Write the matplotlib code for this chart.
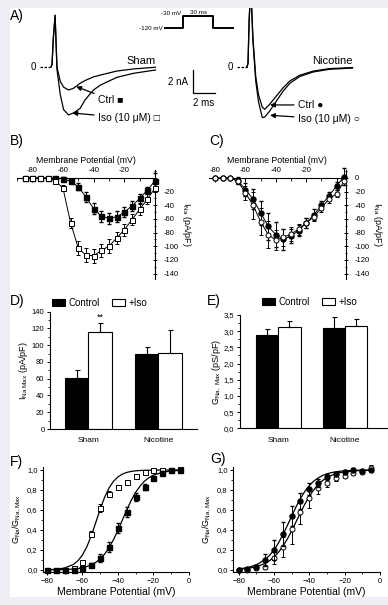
import matplotlib
matplotlib.use('Agg')
import matplotlib.pyplot as plt
from matplotlib.patches import Rectangle, Patch
from matplotlib.ticker import MultipleLocator, FuncFormatter

plt.rcParams['font.family'] = ['Liberation Sans', 'DejaVu Sans']
plt.rcParams['mathtext.fontset'] = 'custom'
plt.rcParams['mathtext.rm'] = 'Liberation Sans'
plt.rcParams['axes.linewidth'] = 0.8

# ---- A) current traces (ms, nA) ----
sham_t = [-0.1, 0.0, 0.12, 0.28, 0.45, 0.75, 1.05, 1.5, 1.95, 2.55, 3.0, 3.45, 3.8, 4.4, 5.9, 7.4, 9.4]
sham_ctrl = [0.0, 0.2, 2.5, 4.5, 0.0, -1.25, -1.75, -2.0, -1.85, -1.42, -1.18, -0.99, -0.85, -0.7, -0.35, -0.17, -0.02]
sham_iso = [0.0, 0.2, 2.5, 4.5, -0.2, -2.4, -3.7, -4.17, -4.0, -3.6, -2.87, -2.35, -1.98, -1.57, -0.9, -0.55, -0.26]

nic_t = [-0.1, 0.0, 0.1, 0.25, 0.45, 0.7, 0.95, 1.3, 1.52, 1.97, 2.58, 3.2, 3.8, 4.7, 5.94, 7.4, 9.5]
nic_ctrl = [0.0, 0.3, 4.0, 7.0, 2.5, -0.8, -2.4, -3.5, -3.68, -3.24, -2.52, -1.8, -1.22, -0.72, -0.35, -0.14, -0.05]
nic_iso = [0.0, 0.3, 4.0, 7.0, 2.2, -1.2, -3.0, -4.4, -4.35, -3.83, -2.96, -2.09, -1.42, -0.83, -0.43, -0.2, -0.09]

# voltage protocol
prot_t = [0, 18, 18, 48, 48, 68]
prot_v = [-120, -120, -30, -30, -120, -120]

# ---- B/C) I-V curves ----
sham_iv_v = [-85, -80, -75, -70, -65, -60, -55, -50, -45, -40, -35, -30, -25, -20, -15, -10, -5, 0]
sham_iv_ctrl = [0, 0, 0, 0, 0, -1, -5, -13, -28, -45, -56, -59, -57, -50, -41, -30, -18, -4]
sham_iv_ctrl_err = [1, 1, 1, 1, 1, 2, 3, 5, 7, 8, 8, 8, 8, 7, 7, 6, 5, 12]
sham_iv_iso = [0, 0, 0, 0, -4, -15, -66, -103, -113, -114, -106, -100, -88, -76, -61, -46, -31, -15]
sham_iv_iso_err = [1, 1, 1, 1, 2, 4, 8, 10, 10, 10, 10, 10, 9, 9, 8, 8, 7, 6]

nic_iv_v = [-80, -75, -70, -65, -60, -55, -50, -45, -40, -35, -30, -25, -20, -15, -10, -5, 0, 5]
nic_iv_ctrl = [0, 0, 0, -4, -17, -31, -51, -71, -83, -90, -85, -77, -66, -54, -40, -26, -12, 2]
nic_iv_ctrl_err = [1, 1, 1, 5, 10, 15, 18, 20, 18, 15, 10, 8, 8, 8, 7, 6, 6, 12]
nic_iv_iso = [0, 0, 0, -5, -22, -40, -64, -83, -91, -87, -82, -75, -66, -57, -44, -31, -23, -5]
nic_iv_iso_err = [1, 1, 1, 4, 10, 20, 20, 20, 15, 12, 10, 8, 7, 6, 6, 6, 5, 5]

# ---- D/E) bars ----
groups = ['Sham', 'Nicotine']
ina_ctrl = [61, 90]
ina_ctrl_err = [9, 8]
ina_iso = [116, 91]
ina_iso_err = [11, 27]
gna_ctrl = [2.87, 3.11]
gna_ctrl_err = [0.2, 0.32]
gna_iso = [3.13, 3.16]
gna_iso_err = [0.18, 0.22]

# ---- F/G) activation ----
act_v = [-80, -75, -70, -65, -60, -55, -50, -45, -40, -35, -30, -25, -20, -15, -10, -5]
sham_act_ctrl = [0, 0, 0, 0.005, 0.017, 0.05, 0.117, 0.233, 0.417, 0.583, 0.727, 0.833, 0.917, 0.967, 1.0, 1.0]
sham_act_ctrl_err = [0.01, 0.01, 0.01, 0.01, 0.01, 0.02, 0.04, 0.05, 0.05, 0.05, 0.04, 0.03, 0.02, 0.02, 0.01, 0.01]
sham_act_iso = [0, 0, 0, 0.02, 0.083, 0.36, 0.617, 0.757, 0.827, 0.883, 0.943, 0.983, 1.0, 1.0, 1.0, 1.01]
sham_act_iso_err = [0.01, 0.01, 0.01, 0.01, 0.01, 0.03, 0.04, 0.03, 0.02, 0.02, 0.02, 0.02, 0.02, 0.02, 0.01, 0.01]
nic_act_ctrl = [0, 0.007, 0.03, 0.1, 0.2, 0.36, 0.545, 0.69, 0.81, 0.875, 0.926, 0.96, 0.977, 1.0, 0.99, 1.0]
nic_act_ctrl_err = [0.01, 0.01, 0.02, 0.06, 0.1, 0.12, 0.1, 0.08, 0.06, 0.04, 0.03, 0.02, 0.02, 0.02, 0.01, 0.01]
nic_act_iso = [0, 0, 0.017, 0.033, 0.117, 0.233, 0.41, 0.583, 0.717, 0.817, 0.867, 0.917, 0.943, 0.967, 0.977, 1.02]
nic_act_iso_err = [0.01, 0.01, 0.01, 0.02, 0.06, 0.1, 0.15, 0.12, 0.1, 0.06, 0.04, 0.03, 0.02, 0.02, 0.02, 0.03]

# Boltzmann fits
fit_v = [-80, -75, -70, -65, -62.5, -60, -57.5, -55, -52.5, -50, -47.5, -45, -42.5, -40, -37.5,
         -35, -32.5, -30, -27.5, -25, -22.5, -20, -15, -10, -5]
sham_fit_ctrl = [0.001, 0.002, 0.004, 0.01, 0.015, 0.023, 0.035, 0.051, 0.076, 0.111, 0.159, 0.223, 0.303,
                 0.397, 0.5, 0.603, 0.697, 0.777, 0.841, 0.889, 0.924, 0.949, 0.977, 0.99, 0.996]
sham_fit_iso = [0.002, 0.007, 0.02, 0.056, 0.093, 0.149, 0.232, 0.343, 0.473, 0.607, 0.727, 0.821, 0.887,
                0.931, 0.959, 0.976, 0.986, 0.992, 0.995, 0.997, 0.998, 0.999, 1.0, 1.0, 1.0]
nic_fit_ctrl = [0.011, 0.024, 0.051, 0.104, 0.146, 0.2, 0.269, 0.351, 0.442, 0.538, 0.631, 0.716, 0.787,
                0.844, 0.889, 0.921, 0.945, 0.962, 0.974, 0.982, 0.988, 0.992, 0.996, 0.998, 0.999]
nic_fit_iso = [0.008, 0.016, 0.033, 0.066, 0.093, 0.129, 0.176, 0.236, 0.308, 0.391, 0.482, 0.573, 0.66,
               0.737, 0.802, 0.854, 0.894, 0.924, 0.946, 0.962, 0.974, 0.981, 0.991, 0.996, 0.998]

W, H = 388, 605
fig = plt.figure(figsize=(W / 100, H / 100), dpi=100)
fig.patch.set_facecolor('#eceef4')
fig.add_artist(Rectangle((10 / W, 1 - 597 / H), 378 / W, 589 / H, transform=fig.transFigure,
                         facecolor='white', edgecolor='none', zorder=-10))


def px_axes(x0, y0, x1, y1):
    return fig.add_axes([x0 / W, 1 - y1 / H, (x1 - x0) / W, (y1 - y0) / H])


def ftext(x, y, s, **kw):
    fig.text(x / W, 1 - y / H, s, **kw)


# panel letters
for lab, x, y in [('A)', 10, 9), ('B)', 10, 134), ('C)', 209, 134), ('D)', 10, 294),
                  ('E)', 207, 294), ('F)', 10, 455), ('G)', 210, 452)]:
    ftext(x, y, lab, fontsize=10, va='top', ha='left')

# ---------------- A) traces ----------------
tr = dict(color='k', lw=0.9)
arr = dict(arrowstyle='-|>', color='k', lw=0.9, mutation_scale=7, shrinkA=1, shrinkB=0)

axA1 = px_axes(15, 8, 222, 132)
axA1.plot(sham_t, sham_ctrl, **tr)
axA1.plot(sham_t, sham_iso, **tr)
axA1.set_xlim(-3.364, 15.45)
axA1.set_ylim(-5.652, 5.13)
axA1.axis('off')
axA1.plot([-1.1, -0.2], [0, 0], color='k', lw=0.9, ls=(0, (2, 1.2)))
axA1.text(-1.73, 0, '0', fontsize=7, ha='center', va='center')
axA1.text(9.45, 0.1, 'Sham', fontsize=8, ha='right', va='bottom')
axA1.annotate('Ctrl \u25a0', xy=(2.2, -1.7), xytext=(4.2, -2.87), fontsize=7.5,
              va='center', ha='left', arrowprops=arr)
axA1.annotate('Iso (10 \u03bcM) \u25a1', xy=(1.85, -4.0), xytext=(4.2, -4.45), fontsize=7.5,
              va='center', ha='left', arrowprops=arr)
# scale bar
axA1.plot([12.82, 12.82, 14.82], [-0.26, -2.26, -2.26], color='k', lw=0.9)
axA1.text(12.4, -1.3, '2 nA', fontsize=7, ha='right', va='center')
axA1.text(13.82, -3.1, '2 ms', fontsize=7, ha='center', va='center')

axA2 = px_axes(222, 8, 385, 132)
axA2.plot(nic_t, nic_ctrl, **tr)
axA2.plot(nic_t, nic_iso, **tr)
axA2.set_xlim(-2.364, 12.45)
axA2.set_ylim(-5.652, 5.13)
axA2.axis('off')
axA2.plot([-1.0, -0.1], [0, 0], color='k', lw=0.9, ls=(0, (2, 1.2)))
axA2.text(-1.64, 0, '0', fontsize=7, ha='center', va='center')
axA2.text(9.55, 0.1, 'Nicotine', fontsize=8, ha='right', va='bottom')
axA2.annotate('Ctrl \u25cf', xy=(2.0, -3.3), xytext=(4.55, -3.3), fontsize=7.5,
              va='center', ha='left', arrowprops=arr)
axA2.annotate('Iso (10 \u03bcM) \u25cb', xy=(2.0, -4.2), xytext=(4.55, -4.52), fontsize=7.5,
              va='center', ha='left', arrowprops=arr)

# voltage protocol
axP = px_axes(150, 6, 240, 34)
axP.plot(prot_t, prot_v, color='k', lw=1.4)
axP.set_xlim(-15, 75)
axP.set_ylim(-165, 45)
axP.axis('off')
axP.text(16, -30, '-30 mV', fontsize=4.5, ha='right', va='bottom')
axP.text(-2, -120, '-120 mV', fontsize=4.5, ha='right', va='center')
axP.text(33, -25, '30 ms', fontsize=4.5, ha='center', va='bottom')


# ---------------- B/C) I-V ----------------
def iv_panel(ax, v, ctrl, ctrl_err, iso, iso_err, marker, show_zero, xlim):
    ax.errorbar(v, ctrl, yerr=ctrl_err, fmt='-' + marker, color='k', mfc='k', mec='k',
                ms=3.6, lw=0.7, elinewidth=0.7, capsize=1.2, clip_on=False, zorder=3)
    ax.errorbar(v, iso, yerr=iso_err, fmt='-' + marker, color='k', mfc='white', mec='k',
                ms=3.6, lw=0.7, elinewidth=0.7, capsize=1.2, mew=0.7, clip_on=False, zorder=4)
    ax.set_xlim(*xlim)
    ax.set_ylim(-148, 12)
    ax.patch.set_alpha(0)
    ax.spines['left'].set_visible(False)
    ax.spines['bottom'].set_visible(False)
    ax.spines['top'].set_position(('data', 0))
    ax.xaxis.tick_top()
    ax.xaxis.set_label_position('top')
    ax.yaxis.tick_right()
    ax.yaxis.set_label_position('right')
    ax.set_xticks([-80, -60, -40, -20, 0])
    ax.set_xticklabels(['-80', '-60', '-40', '-20', ''])
    ax.set_yticks(range(-140, 1, 20))
    ax.set_yticklabels([str(t) for t in range(-140, 0, 20)] + (['0'] if show_zero else ['']))
    ax.xaxis.set_minor_locator(MultipleLocator(10))
    ax.yaxis.set_minor_locator(MultipleLocator(10))
    ax.tick_params(axis='x', which='both', direction='in', labelsize=5.5, pad=3)
    ax.tick_params(axis='y', which='both', direction='inout', labelsize=5.5, pad=5)
    ax.tick_params(which='major', length=3, width=0.7)
    ax.tick_params(which='minor', length=1.8, width=0.6)
    ax.set_xlabel('Membrane Potential (mV)', fontsize=6.3, labelpad=3)
    ax.set_ylabel(r'$\mathregular{I_{Na}}$ (pA/pF)', fontsize=6.5, rotation=270, labelpad=10)


axB = px_axes(17, 169.8, 155, 279)
iv_panel(axB, sham_iv_v, sham_iv_ctrl, sham_iv_ctrl_err, sham_iv_iso, sham_iv_iso_err,
         's', False, (-90, 0))
axC = px_axes(209.1, 169.8, 345.6, 279)
iv_panel(axC, nic_iv_v, nic_iv_ctrl, nic_iv_ctrl_err, nic_iv_iso, nic_iv_iso_err,
         'o', True, (-84, 6))


# ---------------- D/E) bars ----------------
def bar_panel(ax, ctrl, ctrl_err, iso, iso_err):
    w = 0.333
    x = [0, 1]
    ek = dict(elinewidth=0.8, capsize=1.8, capthick=0.8, ecolor='k')
    ax.bar([i - w / 2 for i in x], ctrl, w, color='k', edgecolor='k', lw=0.8,
           yerr=[[0, 0], ctrl_err], error_kw=ek)
    ax.bar([i + w / 2 for i in x], iso, w, color='white', edgecolor='k', lw=0.8,
           yerr=[[0, 0], iso_err], error_kw=ek)
    ax.spines['top'].set_visible(False)
    ax.spines['right'].set_visible(False)
    ax.set_xticks(x)
    ax.set_xticklabels(groups)
    ax.tick_params(axis='x', length=0, labelsize=6, pad=6)
    ax.tick_params(axis='y', which='both', direction='out', labelsize=5.5, pad=1.5)
    ax.tick_params(axis='y', which='major', length=2.5, width=0.7)
    ax.tick_params(axis='y', which='minor', length=1.5, width=0.6)
    leg = ax.legend(handles=[Patch(facecolor='k', edgecolor='k', lw=0.8),
                             Patch(facecolor='white', edgecolor='k', lw=0.8)],
                    labels=['Control', '+Iso'], ncol=2, frameon=False, fontsize=7,
                    loc='center left', handlelength=1.3, handleheight=0.75,
                    handletextpad=0.4, columnspacing=1.3, borderaxespad=0, borderpad=0)
    return leg


axD = px_axes(50, 311.7, 197, 429)
legD = bar_panel(axD, ina_ctrl, ina_ctrl_err, ina_iso, ina_iso_err)
legD.set_bbox_to_anchor((52 / W, 1 - 303 / H), transform=fig.transFigure)
axD.set_xlim(-0.547, 1.553)
axD.set_ylim(0, 140)
axD.yaxis.set_major_locator(MultipleLocator(20))
axD.yaxis.set_minor_locator(MultipleLocator(10))
axD.set_ylabel(r'$\mathregular{I_{Na\ Max}}$ (pA/pF)', fontsize=6.5, labelpad=1)
axD.text(0.1667, ina_iso[0] + ina_iso_err[0] + 1, '**', fontsize=6.5, ha='center', va='bottom')

axE = px_axes(240, 315, 386.7, 428.3)
legE = bar_panel(axE, gna_ctrl, gna_ctrl_err, gna_iso, gna_iso_err)
legE.set_bbox_to_anchor((262 / W, 1 - 302 / H), transform=fig.transFigure)
axE.set_xlim(-0.574, 1.625)
axE.set_ylim(0, 3.5)
axE.yaxis.set_major_locator(MultipleLocator(0.5))
axE.yaxis.set_minor_locator(MultipleLocator(0.25))
axE.yaxis.set_major_formatter(FuncFormatter(lambda v, p: f'{v:.1f}'.replace('.', ',')))
axE.set_ylabel(r'$\mathregular{G_{Na,\ Max}}$ (pS/pF)', fontsize=6.5, labelpad=0.5)


# ---------------- F/G) activation ----------------
def act_panel(ax, ctrl, ctrl_err, iso, iso_err, fit_c, fit_i, marker, xmin):
    ax.plot(fit_v, fit_c, color='k', lw=0.9)
    ax.plot(fit_v, fit_i, color='k', lw=0.9)
    ax.errorbar(act_v, iso, yerr=iso_err, fmt=marker, color='k', mfc='white', mec='k', mew=0.7,
                ms=3.6, elinewidth=0.7, capsize=1.2, clip_on=False, zorder=3)
    ax.errorbar(act_v, ctrl, yerr=ctrl_err, fmt=marker, color='k', mfc='k', mec='k',
                ms=3.6, elinewidth=0.7, capsize=1.2, clip_on=False, zorder=4)
    ax.set_xlim(xmin, 0)
    ax.set_ylim(-0.02, 1.03)
    ax.patch.set_alpha(0)
    ax.spines['top'].set_visible(False)
    ax.spines['right'].set_visible(False)
    ax.set_xticks([-80, -60, -40, -20, 0])
    ax.xaxis.set_minor_locator(MultipleLocator(10))
    ax.set_yticks([0, 0.2, 0.4, 0.6, 0.8, 1.0])
    ax.yaxis.set_minor_locator(MultipleLocator(0.1))
    ax.yaxis.set_major_formatter(FuncFormatter(lambda v, p: f'{v:.1f}'.replace('.', ',')))
    ax.tick_params(which='both', direction='out', labelsize=5.5, pad=1.5)
    ax.tick_params(which='major', length=2.5, width=0.7)
    ax.tick_params(which='minor', length=1.5, width=0.6)
    ax.set_xlabel('Membrane Potential (mV)', fontsize=7.5, labelpad=2)
    ax.set_ylabel(r'$\mathregular{G_{Na}/G_{Na,Max}}$', fontsize=6.5, labelpad=3)


axF = px_axes(43.3, 467, 189, 572)
act_panel(axF, sham_act_ctrl, sham_act_ctrl_err, sham_act_iso, sham_act_iso_err,
          sham_fit_ctrl, sham_fit_iso, 's', -82)
axG = px_axes(233.3, 467, 380, 572)
act_panel(axG, nic_act_ctrl, nic_act_ctrl_err, nic_act_iso, nic_act_iso_err,
          nic_fit_ctrl, nic_fit_iso, 'o', -83)

fig.savefig('out.png', dpi=100, facecolor=fig.get_facecolor())
